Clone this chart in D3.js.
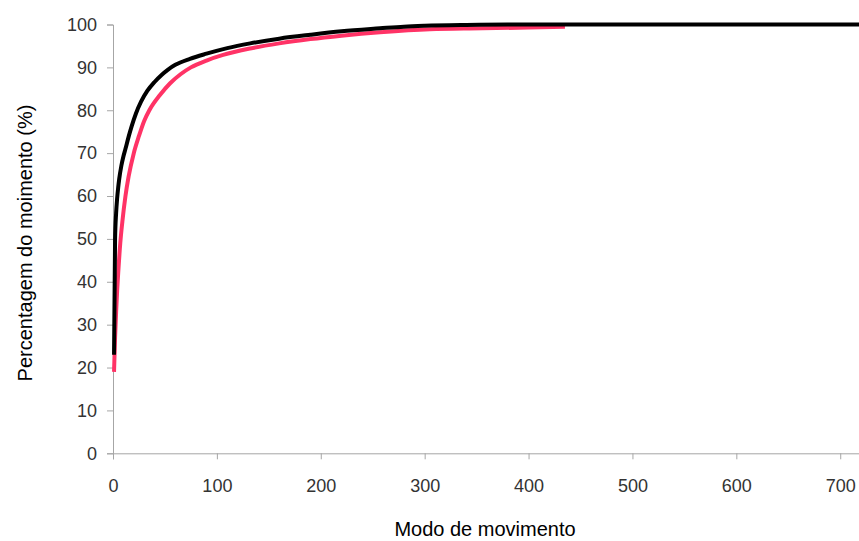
<!DOCTYPE html>
<html>
<head>
<meta charset="utf-8">
<script src="https://cdn.jsdelivr.net/npm/d3@7"></script>
<style>
  html, body { margin: 0; padding: 0; background: #fff; }
  svg { display: block; }
  text { font-family: "Liberation Sans", Arial, sans-serif; }
</style>
</head>
<body>
<svg id="chart" width="859" height="541"></svg>
<script>
// Cumulative share of movement per mode (two series)
const modeA = [1, 2, 3, 4, 5, 6, 8, 10, 12, 15, 18, 22, 27, 33, 40, 47, 53, 60, 74, 90, 110, 132, 160, 190, 220, 257, 280, 300, 340, 380, 450, 550, 650, 720];
const pctA  = [23, 50, 56, 59.5, 62, 64, 67, 69.2, 71, 73.8, 76.3, 79.2, 82, 84.5, 86.6, 88.3, 89.5, 90.6, 92, 93.2, 94.5, 95.6, 96.7, 97.6, 98.4, 99.1, 99.5, 99.7, 99.9, 100, 100, 100, 100, 100];

const modeB = [1, 2, 3, 4, 5, 7, 9, 12, 15, 20, 25, 30, 35, 45, 55, 65, 75, 90, 106, 132, 160, 190, 220, 257, 305, 356, 400, 435];
const pctB  = [19, 27, 33, 38, 42, 49, 54, 60, 64.5, 70, 74, 77.5, 80, 83.5, 86.3, 88.4, 90, 91.6, 92.9, 94.4, 95.6, 96.6, 97.4, 98.2, 98.9, 99.1, 99.3, 99.5];

const xTicks = [0, 100, 200, 300, 400, 500, 600, 700];
const yTicks = [0, 10, 20, 30, 40, 50, 60, 70, 80, 90, 100];

const xTitle = "Modo de movimento";
const yTitle = "Percentagem do moimento (%)";

const svg = d3.select("#chart");

const x = d3.scaleLinear().domain([0, 720]).range([113, 861]);
const y = d3.scaleLinear().domain([0, 100]).range([453.3, 24.5]);

const axisColor = "#a6a6a6";
const labelColor = "#333";

// y axis
const gy = svg.append("g")
  .attr("transform", `translate(${x(0)},0)`)
  .call(d3.axisLeft(y).tickValues(yTicks).tickSize(6).tickPadding(10));
gy.select(".domain").attr("stroke", axisColor);
gy.selectAll(".tick line").attr("stroke", axisColor);
gy.selectAll(".tick text")
  .attr("fill", labelColor)
  .style("font-size", "18px")
  .style("font-family", "'Liberation Sans', Arial, sans-serif");

// x axis
const gx = svg.append("g")
  .attr("transform", `translate(0,${y(0)})`)
  .call(d3.axisBottom(x).tickValues(xTicks).tickSize(6).tickPadding(20));
gx.select(".domain").attr("stroke", axisColor);
gx.selectAll(".tick line").attr("stroke", axisColor);
gx.selectAll(".tick text")
  .attr("fill", labelColor)
  .style("font-size", "18px")
  .style("font-family", "'Liberation Sans', Arial, sans-serif");

// series lines
const line = d3.line()
  .x(d => x(d[0]))
  .y(d => y(d[1]))
  .curve(d3.curveMonotoneX);

svg.append("path")
  .datum(d3.zip(modeB, pctB))
  .attr("fill", "none")
  .attr("stroke", "#ff3366")
  .attr("stroke-width", 4)
  .attr("d", line);

svg.append("path")
  .datum(d3.zip(modeA, pctA))
  .attr("fill", "none")
  .attr("stroke", "#000")
  .attr("stroke-width", 4)
  .attr("d", line);

// axis titles
svg.append("text")
  .attr("x", 485)
  .attr("y", 536)
  .attr("text-anchor", "middle")
  .attr("fill", "#000")
  .style("font-size", "20px")
  .text(xTitle);

svg.append("text")
  .attr("transform", "translate(32,243) rotate(-90)")
  .attr("text-anchor", "middle")
  .attr("fill", "#000")
  .style("font-size", "20px")
  .text(yTitle);
</script>
</body>
</html>
